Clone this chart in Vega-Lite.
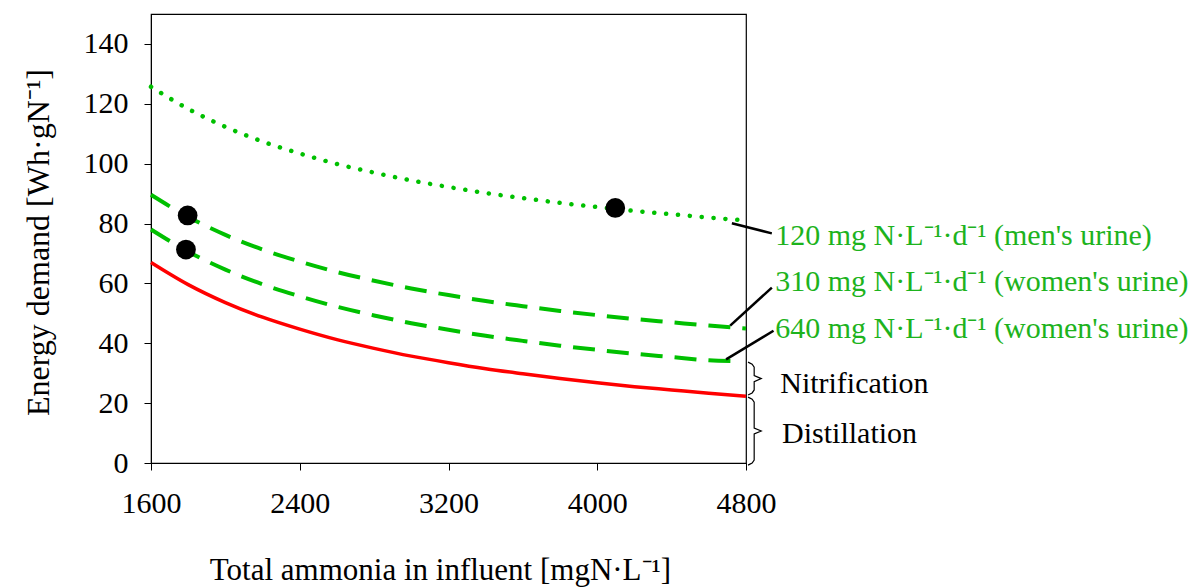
{
  "$schema": "https://vega.github.io/schema/vega-lite/v6.json",
  "width": 595,
  "height": 449,
  "autosize": "none",
  "padding": {"left": 151, "top": 14, "right": 454, "bottom": 125},
  "background": "white",
  "config": {
    "view": {"stroke": "black", "strokeWidth": 1.2},
    "font": "Liberation Serif",
    "text": {"font": "Liberation Serif"}
  },
  "datasets": {
    "curves": [
      {"series": "dist", "x": 1600, "y": 67.0}, {"series": "dist", "x": 1800, "y": 59.6}, {"series": "dist", "x": 2000, "y": 53.6}, {"series": "dist", "x": 2200, "y": 48.7}, {"series": "dist", "x": 2400, "y": 44.7}, {"series": "dist", "x": 2600, "y": 41.2}, {"series": "dist", "x": 2800, "y": 38.3}, {"series": "dist", "x": 3000, "y": 35.7}, {"series": "dist", "x": 3200, "y": 33.5}, {"series": "dist", "x": 3400, "y": 31.5}, {"series": "dist", "x": 3600, "y": 29.8}, {"series": "dist", "x": 3800, "y": 28.2}, {"series": "dist", "x": 4000, "y": 26.8}, {"series": "dist", "x": 4200, "y": 25.5}, {"series": "dist", "x": 4400, "y": 24.4}, {"series": "dist", "x": 4600, "y": 23.3}, {"series": "dist", "x": 4800, "y": 22.3},
      {"series": "s120", "x": 1600, "y": 125.7}, {"series": "s120", "x": 1800, "y": 118.3}, {"series": "s120", "x": 2000, "y": 112.3}, {"series": "s120", "x": 2200, "y": 107.4}, {"series": "s120", "x": 2400, "y": 103.4}, {"series": "s120", "x": 2600, "y": 99.9}, {"series": "s120", "x": 2800, "y": 97.0}, {"series": "s120", "x": 3000, "y": 94.4}, {"series": "s120", "x": 3200, "y": 92.2}, {"series": "s120", "x": 3400, "y": 90.2}, {"series": "s120", "x": 3600, "y": 88.5}, {"series": "s120", "x": 3800, "y": 86.9}, {"series": "s120", "x": 4000, "y": 85.5}, {"series": "s120", "x": 4200, "y": 84.2}, {"series": "s120", "x": 4400, "y": 83.1}, {"series": "s120", "x": 4600, "y": 82.0}, {"series": "s120", "x": 4780, "y": 81.1},
      {"series": "s310", "x": 1600, "y": 89.6}, {"series": "s310", "x": 1800, "y": 82.2}, {"series": "s310", "x": 2000, "y": 76.2}, {"series": "s310", "x": 2200, "y": 71.3}, {"series": "s310", "x": 2400, "y": 67.3}, {"series": "s310", "x": 2600, "y": 63.8}, {"series": "s310", "x": 2800, "y": 60.9}, {"series": "s310", "x": 3000, "y": 58.3}, {"series": "s310", "x": 3200, "y": 56.1}, {"series": "s310", "x": 3400, "y": 54.1}, {"series": "s310", "x": 3600, "y": 52.4}, {"series": "s310", "x": 3800, "y": 50.8}, {"series": "s310", "x": 4000, "y": 49.4}, {"series": "s310", "x": 4200, "y": 48.1}, {"series": "s310", "x": 4400, "y": 47.0}, {"series": "s310", "x": 4600, "y": 45.9}, {"series": "s310", "x": 4800, "y": 44.9},
      {"series": "s640", "x": 1600, "y": 78.0}, {"series": "s640", "x": 1800, "y": 70.6}, {"series": "s640", "x": 2000, "y": 64.6}, {"series": "s640", "x": 2200, "y": 59.7}, {"series": "s640", "x": 2400, "y": 55.7}, {"series": "s640", "x": 2600, "y": 52.2}, {"series": "s640", "x": 2800, "y": 49.3}, {"series": "s640", "x": 3000, "y": 46.7}, {"series": "s640", "x": 3200, "y": 44.5}, {"series": "s640", "x": 3400, "y": 42.5}, {"series": "s640", "x": 3600, "y": 40.8}, {"series": "s640", "x": 3800, "y": 39.2}, {"series": "s640", "x": 4000, "y": 37.8}, {"series": "s640", "x": 4200, "y": 36.5}, {"series": "s640", "x": 4400, "y": 35.4}, {"series": "s640", "x": 4600, "y": 34.3}, {"series": "s640", "x": 4740, "y": 34.0}
    ],
    "points": [
      {"x": 1797, "y": 82.7},
      {"x": 1788, "y": 71.3},
      {"x": 4097, "y": 85.2}
    ],
    "leaders": [
      {"x": 4724, "y": 80.1, "x2": 4939, "y2": 76.7},
      {"x": 4715, "y": 45.9, "x2": 4939, "y2": 58.6},
      {"x": 4693, "y": 34.6, "x2": 4948, "y2": 44.2}
    ],
    "braces": [
      {"b": "n", "i": 0, "x": 4811, "y": 33.7}, {"b": "n", "i": 1, "x": 4833, "y": 33.0}, {"b": "n", "i": 2, "x": 4844, "y": 32.0}, {"b": "n", "i": 3, "x": 4844, "y": 29.2}, {"b": "n", "i": 4, "x": 4882, "y": 28.2}, {"b": "n", "i": 5, "x": 4844, "y": 27.2}, {"b": "n", "i": 6, "x": 4844, "y": 24.4}, {"b": "n", "i": 7, "x": 4833, "y": 23.4}, {"b": "n", "i": 8, "x": 4811, "y": 22.7},
      {"b": "d", "i": 0, "x": 4811, "y": 22.0}, {"b": "d", "i": 1, "x": 4833, "y": 21.3}, {"b": "d", "i": 2, "x": 4844, "y": 20.3}, {"b": "d", "i": 3, "x": 4844, "y": 11.7}, {"b": "d", "i": 4, "x": 4882, "y": 10.7}, {"b": "d", "i": 5, "x": 4844, "y": 9.7}, {"b": "d", "i": 6, "x": 4844, "y": 1.0}, {"b": "d", "i": 7, "x": 4833, "y": 0.0}, {"b": "d", "i": 8, "x": 4811, "y": -0.7}
    ],
    "labels": [
      {"x": 4957, "y": 75.8, "t": "120 mg N·L⁻¹·d⁻¹ (men's urine)"},
      {"x": 4957, "y": 60.5, "t": "310 mg N·L⁻¹·d⁻¹ (women's urine)"},
      {"x": 4957, "y": 44.8, "t": "640 mg N·L⁻¹·d⁻¹ (women's urine)"}
    ],
    "blabels": [
      {"x": 4984, "y": 26.4, "t": "Nitrification"},
      {"x": 4994, "y": 9.7, "t": "Distillation"}
    ]
  },
  "encoding": {
    "x": {
      "field": "x", "type": "quantitative",
      "scale": {"domain": [1600, 4800], "nice": false, "zero": false},
      "axis": {
        "values": [1600, 2400, 3200, 4000, 4800], "format": "d", "labelFlush": false,
        "grid": false, "domainColor": "black", "tickColor": "black", "tickSize": 7,
        "labelFont": "Liberation Serif", "labelFontSize": 30, "labelColor": "black", "labelPadding": 18,
        "title": "Total ammonia in influent [mgN·L⁻¹]",
        "titleFont": "Liberation Serif", "titleFontSize": 31, "titleFontWeight": "normal", "titleColor": "black",
        "titleX": 289, "titleY": 107, "titleBaseline": "middle", "titleAnchor": "middle", "titleAlign": "center"
      }
    },
    "y": {
      "field": "y", "type": "quantitative",
      "scale": {"domain": [0, 150], "nice": false},
      "axis": {
        "values": [0, 20, 40, 60, 80, 100, 120, 140], "format": "d",
        "grid": false, "domainColor": "black", "tickColor": "black", "tickSize": 7,
        "labelFont": "Liberation Serif", "labelFontSize": 30, "labelColor": "black", "labelPadding": 16,
        "title": "Energy demand [Wh·gN⁻¹]",
        "titleFont": "Liberation Serif", "titleFontSize": 32, "titleFontWeight": "normal", "titleColor": "black",
        "titleAngle": -90, "titleX": -113, "titleY": 228, "titleBaseline": "middle", "titleAlign": "center"
      }
    }
  },
  "layer": [
    {
      "data": {"name": "curves"},
      "transform": [{"filter": "datum.series === 'dist'"}],
      "mark": {"type": "line", "color": "#ff0000", "strokeWidth": 3.5, "interpolate": "monotone"}
    },
    {
      "data": {"name": "curves"},
      "transform": [{"filter": "datum.series === 's120'"}],
      "mark": {"type": "line", "color": "#00c000", "strokeWidth": 4.5, "strokeDash": [0.1, 11.8], "strokeCap": "round", "interpolate": "monotone"}
    },
    {
      "data": {"name": "curves"},
      "transform": [{"filter": "datum.series === 's310'"}],
      "mark": {"type": "line", "color": "#00c000", "strokeWidth": 4, "strokeDash": [22, 12], "interpolate": "monotone"}
    },
    {
      "data": {"name": "curves"},
      "transform": [{"filter": "datum.series === 's640'"}],
      "mark": {"type": "line", "color": "#00c000", "strokeWidth": 4, "strokeDash": [22, 12], "interpolate": "monotone"}
    },
    {
      "data": {"name": "points"},
      "mark": {"type": "point", "filled": true, "color": "black", "opacity": 1, "size": 390}
    },
    {
      "data": {"name": "leaders"},
      "mark": {"type": "rule", "color": "black", "strokeWidth": 2.5, "clip": false},
      "encoding": {"x2": {"field": "x2"}, "y2": {"field": "y2"}}
    },
    {
      "data": {"name": "braces"},
      "mark": {"type": "line", "color": "black", "strokeWidth": 1.2, "clip": false},
      "encoding": {"detail": {"field": "b"}, "order": {"field": "i", "type": "quantitative"}}
    },
    {
      "data": {"name": "labels"},
      "mark": {"type": "text", "align": "left", "baseline": "middle", "font": "Liberation Serif", "fontSize": 30, "color": "#1db31d", "clip": false},
      "encoding": {"text": {"field": "t"}}
    },
    {
      "data": {"name": "blabels"},
      "mark": {"type": "text", "align": "left", "baseline": "middle", "font": "Liberation Serif", "fontSize": 30, "color": "black", "clip": false},
      "encoding": {"text": {"field": "t"}}
    }
  ]
}
